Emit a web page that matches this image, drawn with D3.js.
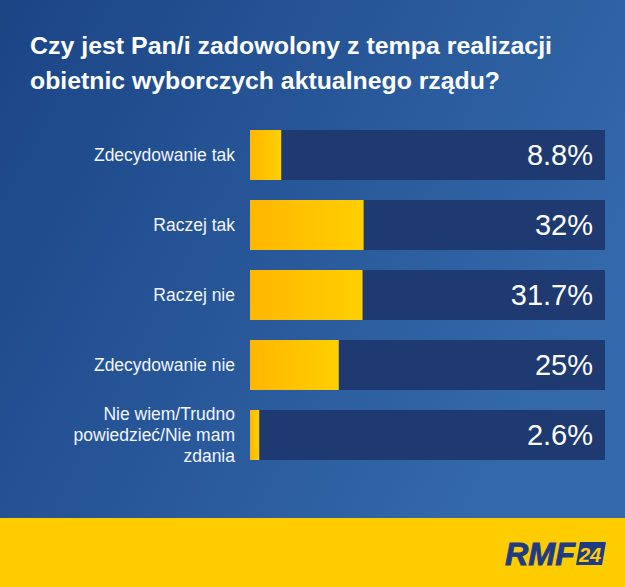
<!DOCTYPE html>
<html><head><meta charset="utf-8">
<script src="https://cdn.jsdelivr.net/npm/d3@7"></script>
<style>html,body{margin:0;padding:0;background:#fff;overflow:hidden}svg{display:block}</style>
</head><body>
<script>
const titleLines = ["Czy jest Pan/i zadowolony z tempa realizacji", "obietnic wyborczych aktualnego rządu?"];
const categories = ["Zdecydowanie tak", "Raczej tak", "Raczej nie", "Zdecydowanie nie", "Nie wiem/Trudno powiedzieć/Nie mam zdania"];
const categoryLines = [["Zdecydowanie tak"], ["Raczej tak"], ["Raczej nie"], ["Zdecydowanie nie"], ["Nie wiem/Trudno", "powiedzieć/Nie mam", "zdania"]];
const values = [8.8, 32, 31.7, 25, 2.6];
const valueLabels = ["8.8%", "32%", "31.7%", "25%", "2.6%"];

const W = 625, H = 587;
const svg = d3.select("body").append("svg").attr("width", W).attr("height", H);
const defs = svg.append("defs");
const bg = defs.append("linearGradient").attr("id", "bg").attr("x1", 0).attr("y1", 0).attr("x2", 1).attr("y2", 0.5);
bg.append("stop").attr("offset", "0%").attr("stop-color", "#1b4485");
bg.append("stop").attr("offset", "100%").attr("stop-color", "#346aac");
const yg = defs.append("linearGradient").attr("id", "yg").attr("x1", 0).attr("y1", 0).attr("x2", 1).attr("y2", 0);
yg.append("stop").attr("offset", "0%").attr("stop-color", "#ffb700");
yg.append("stop").attr("offset", "100%").attr("stop-color", "#ffcf00");

svg.append("rect").attr("width", W).attr("height", H).attr("fill", "url(#bg)");
svg.append("rect").attr("x", 0).attr("y", 518).attr("width", W).attr("height", H - 518).attr("fill", "#ffcc00");

// title
svg.append("g").selectAll("text").data(titleLines).join("text")
  .attr("x", 30).attr("y", (d, i) => 54 + i * 35)
  .attr("fill", "#ffffff").attr("font-family", "Liberation Sans, Arial, sans-serif")
  .attr("font-weight", "bold").attr("font-size", 23.5)
  .attr("textLength", (d, i) => [522, 470][i]).attr("lengthAdjust", "spacingAndGlyphs")
  .text(d => d);

const x = d3.scaleLinear().domain([0, 100]).range([250, 605]);
const y = d3.scaleBand().domain(categories).range([120, 470]).paddingInner(2 / 7).paddingOuter(1 / 7);

const rows = svg.append("g").selectAll("g").data(categories).join("g");
rows.append("rect").attr("x", x(0)).attr("y", d => y(d)).attr("width", x(100) - x(0)).attr("height", y.bandwidth()).attr("fill", "#1f3a70");
rows.append("rect").attr("x", x(0)).attr("y", d => y(d)).attr("width", (d, i) => x(values[i]) - x(0)).attr("height", y.bandwidth()).attr("fill", "url(#yg)");
rows.append("text").attr("x", 593).attr("y", d => y(d) + y.bandwidth() / 2 + 10)
  .attr("text-anchor", "end").attr("fill", "#ffffff").attr("font-family", "Liberation Sans, Arial, sans-serif")
  .attr("font-size", 29).text((d, i) => valueLabels[i]);
rows.each(function (d, i) {
  const lines = categoryLines[i];
  const cy = y(d) + y.bandwidth() / 2;
  const lh = 21;
  d3.select(this).append("text").attr("text-anchor", "end").attr("fill", "#f2f5fb")
    .attr("font-family", "Liberation Sans, Arial, sans-serif").attr("font-size", 17.5)
    .selectAll("tspan").data(lines).join("tspan")
    .attr("x", 235).attr("y", (l, j) => cy + 6 + (j - (lines.length - 1) / 2) * lh)
    .text(l => l);
});

// logo
const logo = svg.append("g");
logo.append("text").attr("x", 505).attr("y", 565).attr("fill", "#1e3b84")
  .attr("font-family", "Liberation Sans, Arial, sans-serif").attr("font-weight", "bold").attr("font-style", "italic")
  .attr("font-size", 31).attr("textLength", 70).attr("lengthAdjust", "spacingAndGlyphs")
  .attr("stroke", "#1e3b84").attr("stroke-width", 0.8).text("RMF");
logo.append("path").attr("d", "M580,542 L606,542 L602,565 L576,565 Z").attr("fill", "#1e3b84");
logo.append("text").attr("x", 590).attr("y", 562).attr("text-anchor", "middle").attr("fill", "#ffcc00")
  .attr("font-family", "Liberation Sans, Arial, sans-serif").attr("font-weight", "bold").attr("font-style", "italic")
  .attr("font-size", 20).text("24");
</script>
</body></html>
